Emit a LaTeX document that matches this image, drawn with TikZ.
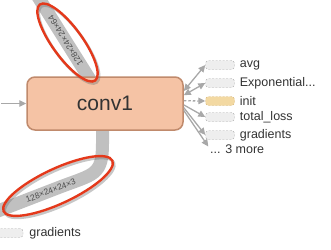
\documentclass[tikz,border=0pt]{standalone}
\usepackage{fontspec}
\setmainfont{Liberation Sans}
\usetikzlibrary{positioning, arrows.meta, backgrounds}

\definecolor{opfill}{HTML}{F5C3A5}
\definecolor{opline}{HTML}{C08A6C}
\definecolor{pillfill}{HTML}{EEEEEE}
\definecolor{pillline}{HTML}{ABABAB}
\definecolor{initfill}{HTML}{F3D9A2}
\definecolor{initline}{HTML}{D4B47A}
\definecolor{edgegray}{HTML}{A8A8A8}
\definecolor{bandgray}{HTML}{C0C0C0}
\definecolor{ringred}{HTML}{E4391B}
\definecolor{txt}{HTML}{333333}

\begin{document}
\begin{tikzpicture}[x=1pt, y=-1pt,
    opnode/.style={draw=opline, fill=opfill, line width=1.5pt, rounded corners=8pt,
      minimum width=156pt, minimum height=53pt, text=txt,
      font=\fontsize{21}{24}\selectfont},
    pill/.style={draw=pillline, fill=pillfill, dash pattern=on 2pt off 1.5pt,
      rounded corners=3pt, minimum width=29pt, minimum height=9pt, inner sep=0pt},
    initpill/.style={pill, draw=initline, fill=initfill},
    lbl/.style={inner sep=0pt, text=txt, font=\fontsize{12.5}{14}\selectfont},
    edge/.style={draw=edgegray, line width=1.3pt, -{Triangle[length=7pt, width=6.5pt]}},
    both/.style={edge, {Triangle[length=7pt, width=6.5pt]}-{Triangle[length=7pt, width=6.5pt]}},
    band/.style={draw=bandgray, line width=13pt},
    shape lbl/.style={inner sep=0pt, text=black!70, font=\fontsize{8.5}{10}\selectfont},
    ring/.style={draw=ringred, line width=2.4pt},
    ringshadow/.style={draw=black!55, line width=2.6pt, opacity=0.4}]
  \useasboundingbox (0,0) rectangle (331,249);
  \clip (0,0) rectangle (331,249);

  % main op
  \node[opnode] (conv1) at (105,103.5) {conv1};

  % summary nodes on the right
  \node[pill] (avg) at (220,65) {};
  \node[pill] (expo) at (220,83) {};
  \node[initpill] (init) at (220,101) {};
  \node[pill] (loss) at (220,117) {};
  \node[pill] (grad) at (220,135) {};
  \node[lbl, right=5pt of avg] {avg};
  \node[lbl, right=5pt of expo] {Exponential...};
  \node[lbl, right=5pt of init] {init};
  \node[lbl, right=5pt of loss] {total\_loss};
  \node[lbl, right=5pt of grad] {gradients};
  \node[lbl, anchor=west] (more) at (210,149) {... 3 more};

  % node at the bottom left
  \node[pill] (grad2) at (8.5,233) {};
  \node[lbl, right=6pt of grad2] {gradients};

  % edges
  \coordinate (in) at (1,103.5);
  \draw[edge] (in) -- (conv1.west);
  \draw[both] (conv1.9) -- (avg.west);
  \draw[both] (conv1.6) -- (expo.west);
  \draw[edge, dash pattern=on 2.5pt off 2pt] (conv1.2) -- (init.west);
  \draw[edge] (conv1.-1) -- (loss.west);
  \draw[edge] (conv1.-3) -- (grad.west);
  \draw[edge, shorten >=3pt] (conv1.-5) -- (more.west);

  % tensor shapes
  \coordinate (topin) at (37.5,-4);
  \coordinate (bend) at (60,187);
  \coordinate (botout) at (-6,212.5);
  \begin{scope}[on background layer]
    \draw[band] (conv1.center) -- (topin)
      node[shape lbl, pos=0.585, sloped, allow upside down] {128×24×24×64};
    \draw[band] ([xshift=-2.5pt]conv1.center) -- ++(0,40)
      .. controls +(0,32) and +(34,-13) .. (bend) -- (botout)
      node[shape lbl, pos=0.14, sloped] {128×24×24×3};
  \end{scope}

  % highlight rings
  \draw[ringshadow] (69,44.5) ellipse [x radius=47pt, y radius=15pt, rotate=-54];
  \draw[ring] (67.5,42.5) ellipse [x radius=47pt, y radius=15pt, rotate=-54];
  \draw[ringshadow] (59.5,188) ellipse [x radius=60pt, y radius=17.5pt, rotate=25];
  \draw[ring] (58,186) ellipse [x radius=60pt, y radius=17.5pt, rotate=25];
\end{tikzpicture}
\end{document}
